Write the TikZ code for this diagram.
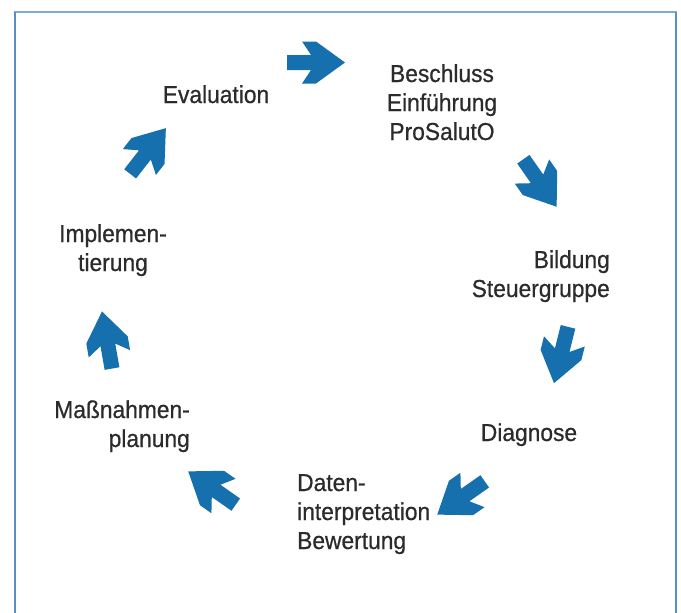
\documentclass[tikz,border=0pt]{standalone}
\usepackage{fontspec}
\setmainfont{Liberation Sans}[FakeBold=0.6, FakeStretch=0.93]
\definecolor{arrblue}{HTML}{1670AE}
\definecolor{frameL}{HTML}{5B8FC4}
\definecolor{frameT}{HTML}{7AAED8}
\definecolor{txt}{HTML}{2B2B2B}
\tikzset{
  lbl/.style={inner sep=0pt, text=txt, font=\fontsize{24.5}{29}\selectfont, anchor=base},
  cyc/.pic={\fill[arrblue] (-29,7.5) -- (-5,7.5) -- (-14,21) -- (0,21) -- (29,0) -- (0,-21) -- (-14,-21) -- (-5,-7.5) -- (-29,-7.5) -- cycle;}
}
\begin{document}
\begin{tikzpicture}[x=1pt,y=-1pt]
\useasboundingbox (0,0) rectangle (681,613);
\fill[white] (0,0) rectangle (681,613);
% frame
\draw[frameT, line width=2.5pt] (14,12) -- (677,12);
\draw[frameL, line width=2pt] (15,12) -- (15,613);
\draw[frameL, line width=2pt] (676,12) -- (676,613);
% labels (base = baseline of last line)
\node[lbl, align=center] (besch) at (442,140) {Beschluss\\Einführung\\ProSalutO};
\node[lbl, align=right, anchor=base east] (bild) at (610,297) {Bildung\\Steuergruppe};
\node[lbl] (diag) at (529,441) {Diagnose};
\node[lbl, align=left, anchor=base west] (daten) at (297,549) {Daten-\\interpretation\\Bewertung};
\node[lbl, align=right, anchor=base east] (mass) at (190,447) {Maßnahmen-\\planung};
\node[lbl, align=center] (impl) at (113,271) {Implemen-\\tierung};
\node[lbl] (eval) at (216,103) {Evaluation};
% arrows
\pic[rotate=0] at (316,62.5) {cyc};
\pic[rotate=-55] at (540,183) {cyc};
\pic[rotate=-104] at (561,355) {cyc};
\pic[rotate=-145] at (461,498) {cyc};
\pic[rotate=145] at (212,488) {cyc};
\pic[rotate=100] at (107,340) {cyc};
\pic[rotate=52] at (148,151) {cyc};
\end{tikzpicture}
\end{document}
